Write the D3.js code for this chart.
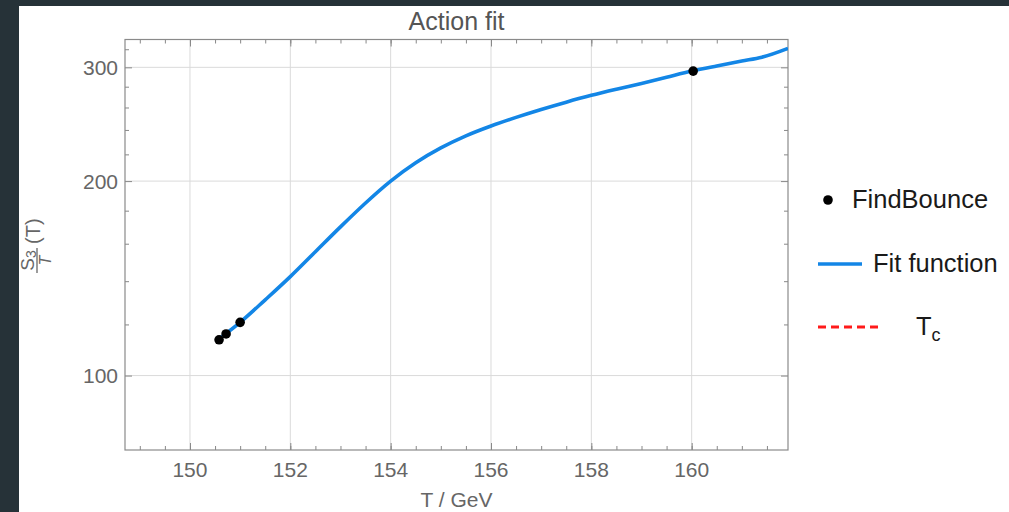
<!DOCTYPE html>
<html>
<head>
<meta charset="utf-8">
<script src="https://cdn.jsdelivr.net/npm/d3@7/dist/d3.min.js"></script>
<style>
  html, body { margin: 0; padding: 0; background: #263238; }
  svg { display: block; font-family: "Liberation Sans", Arial, sans-serif; }
</style>
</head>
<body>
<div id="chart"></div>
<script>
// FindBounce points (T, S3/T)
var bounceT = [150.58, 150.72, 151.0, 160.03];
var bounceS = [113.6, 116.0, 120.9, 296.0];

// fit function
var fitT = [150.62, 151.0, 151.5, 152.0, 152.5, 153.0, 153.5, 154.0, 154.5, 155.0, 155.5, 156.0, 156.5, 157.0, 157.5, 158.0, 158.5, 159.0, 159.5, 160.0, 160.5, 161.0, 161.4, 161.92];
var fitS = [114.6, 120.9, 131.0, 142.3, 155.5, 169.9, 185.0, 200.0, 213.5, 225.1, 235.0, 243.4, 251.0, 258.2, 265.0, 271.5, 277.5, 283.3, 289.6, 296.0, 301.5, 306.8, 311.0, 321.0];

var xMajor = [150, 152, 154, 156, 158, 160];
var xMinor = d3.range(149, 162, 0.5);
var yMajor = [100, 200, 300];
var yMinor = [120, 140, 160, 180, 220, 240, 260, 280, 320];

var W = 1009, H = 512;
var pL = 125, pR = 788, pT = 39.5, pB = 450;

var svg = d3.select("#chart").append("svg")
  .attr("width", W)
  .attr("height", H);

// white panel on the dark page
svg.append("rect")
  .attr("x", 19).attr("y", 6)
  .attr("width", W - 19).attr("height", H - 6)
  .attr("fill", "#fff");

var x = d3.scaleLinear().domain([148.705, 161.92]).range([pL, pR]);
var y = d3.scaleLog().domain([76.7, 331.3]).range([pB, pT]);

svg.append("clipPath").attr("id", "clip")
  .append("rect")
  .attr("x", pL).attr("y", pT)
  .attr("width", pR - pL).attr("height", pB - pT);

/* grid */
svg.selectAll("line.gx")
  .data(xMajor)
  .enter().append("line")
  .attr("x1", function(d){ return x(d); })
  .attr("x2", function(d){ return x(d); })
  .attr("y1", pT).attr("y2", pB)
  .attr("stroke", "#dadada").attr("stroke-width", 1);

svg.selectAll("line.gy")
  .data(yMajor)
  .enter().append("line")
  .attr("y1", function(d){ return y(d); })
  .attr("y2", function(d){ return y(d); })
  .attr("x1", pL).attr("x2", pR)
  .attr("stroke", "#dadada").attr("stroke-width", 1);

/* axes: ticks pointing inside, mirrored on top and right */
var tickCol = "#888";
function noDomain(g){ g.select(".domain").remove(); }

svg.append("g").attr("transform", "translate(0," + pB + ")")
  .call(d3.axisTop(x).tickValues(xMinor).tickSize(4).tickFormat(""))
  .call(noDomain);
svg.append("g").attr("transform", "translate(0," + pB + ")")
  .call(d3.axisTop(x).tickValues(xMajor).tickSize(7).tickFormat(""))
  .call(noDomain);
svg.append("g").attr("transform", "translate(0," + pT + ")")
  .call(d3.axisBottom(x).tickValues(xMinor).tickSize(4).tickFormat(""))
  .call(noDomain);
svg.append("g").attr("transform", "translate(0," + pT + ")")
  .call(d3.axisBottom(x).tickValues(xMajor).tickSize(7).tickFormat(""))
  .call(noDomain);

svg.append("g").attr("transform", "translate(" + pL + ",0)")
  .call(d3.axisRight(y).tickValues(yMinor).tickSize(4).tickFormat(""))
  .call(noDomain);
svg.append("g").attr("transform", "translate(" + pL + ",0)")
  .call(d3.axisRight(y).tickValues(yMajor).tickSize(7).tickFormat(""))
  .call(noDomain);
svg.append("g").attr("transform", "translate(" + pR + ",0)")
  .call(d3.axisLeft(y).tickValues(yMinor).tickSize(4).tickFormat(""))
  .call(noDomain);
svg.append("g").attr("transform", "translate(" + pR + ",0)")
  .call(d3.axisLeft(y).tickValues(yMajor).tickSize(7).tickFormat(""))
  .call(noDomain);

svg.selectAll(".tick line").attr("stroke", tickCol).attr("stroke-width", 1);

/* frame */
svg.append("rect")
  .attr("x", pL).attr("y", pT)
  .attr("width", pR - pL).attr("height", pB - pT)
  .attr("fill", "none").attr("stroke", "#8a8a8a").attr("stroke-width", 1.2);

/* tick labels */
svg.selectAll("text.xl")
  .data(xMajor)
  .enter().append("text")
  .attr("x", function(d){ return x(d); })
  .attr("y", pB + 27)
  .attr("text-anchor", "middle")
  .attr("font-size", 21)
  .attr("fill", "#666")
  .text(function(d){ return d; });

svg.selectAll("text.yl")
  .data(yMajor)
  .enter().append("text")
  .attr("x", pL - 7)
  .attr("y", function(d){ return y(d) + 7.5; })
  .attr("text-anchor", "end")
  .attr("font-size", 21)
  .attr("fill", "#666")
  .text(function(d){ return d; });

/* fit curve */
var line = d3.line()
  .x(function(d){ return x(d[0]); })
  .y(function(d){ return y(d[1]); })
  .curve(d3.curveMonotoneX);

svg.append("path")
  .datum(d3.zip(fitT, fitS))
  .attr("clip-path", "url(#clip)")
  .attr("d", line)
  .attr("fill", "none")
  .attr("stroke", "#1386e6")
  .attr("stroke-width", 3.6);

/* bounce points */
svg.selectAll("circle.pt")
  .data(d3.zip(bounceT, bounceS))
  .enter().append("circle")
  .attr("cx", function(d){ return x(d[0]); })
  .attr("cy", function(d){ return y(d[1]); })
  .attr("r", 4.8)
  .attr("fill", "#000");

/* title and axis labels */
svg.append("text")
  .attr("x", (pL + pR) / 2).attr("y", 30)
  .attr("text-anchor", "middle")
  .attr("font-size", 25)
  .attr("fill", "#555")
  .text("Action fit");

svg.append("text")
  .attr("x", (pL + pR) / 2).attr("y", 507)
  .attr("text-anchor", "middle")
  .attr("font-size", 21)
  .attr("fill", "#666")
  .text("T / GeV");

// S3/T (T), rotated
var yl = svg.append("g").attr("transform", "translate(37,273) rotate(-90)")
  .attr("fill", "#666");
yl.append("line")
  .attr("x1", 0).attr("x2", 25).attr("y1", 0).attr("y2", 0)
  .attr("stroke", "#666").attr("stroke-width", 1.3);
var num = yl.append("text").attr("x", 12.5).attr("y", -3)
  .attr("text-anchor", "middle").attr("font-size", 19);
num.append("tspan").text("S");
num.append("tspan").attr("font-size", 14).attr("dy", 2).text("3");
yl.append("text").attr("x", 12.5).attr("y", 14)
  .attr("text-anchor", "middle").attr("font-size", 16)
  .attr("font-style", "italic").text("T");
yl.append("text").attr("x", 29).attr("y", 3)
  .attr("font-size", 20).text("(T)");

/* legend */
var lg = svg.append("g").attr("font-size", 25.5).attr("fill", "#1a1a1a");
lg.append("circle").attr("cx", 828).attr("cy", 200).attr("r", 4.8).attr("fill", "#000");
lg.append("text").attr("x", 852).attr("y", 208).text("FindBounce");

lg.append("line").attr("x1", 818).attr("x2", 862).attr("y1", 264).attr("y2", 264)
  .attr("stroke", "#1386e6").attr("stroke-width", 3.6);
lg.append("text").attr("x", 873).attr("y", 272).text("Fit function");

lg.append("line").attr("x1", 818).attr("x2", 879).attr("y1", 327).attr("y2", 327)
  .attr("stroke", "#ff1a1a").attr("stroke-width", 3)
  .attr("stroke-dasharray", "8,5");
var tc = lg.append("text").attr("x", 916).attr("y", 335);
tc.append("tspan").text("T");
tc.append("tspan").attr("font-size", 18).attr("dy", 6).text("c");
</script>
</body>
</html>
